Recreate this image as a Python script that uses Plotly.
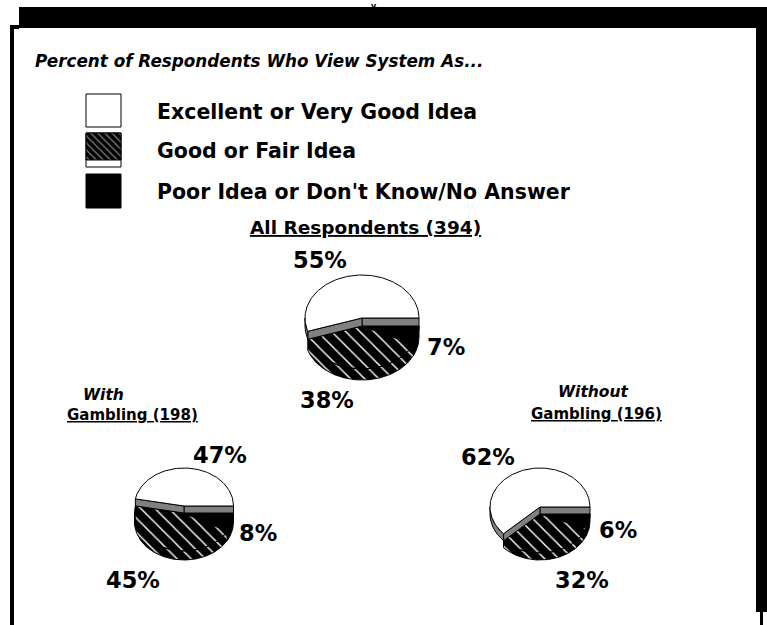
import numpy as np
import plotly.graph_objects as go

# ---------------- data ----------------
categories = ["Excellent or Very Good Idea", "Good or Fair Idea",
              "Poor Idea or Don't Know/No Answer"]
group_prefix = ["", "With", "Without"]
group_names = ["All Respondents (394)", "Gambling (198)", "Gambling (196)"]
all_respondents = [55, 38, 7]
with_gambling = [47, 45, 8]
without_gambling = [62, 32, 6]
series = [all_respondents, with_gambling, without_gambling]
chart_title = "Percent of Respondents Who View System As..."

# ---------------- layout constants (pixel space) ----------------
W, H = 767, 625
FONT = "DejaVu Sans"
GRAY = "#808080"
PIES = [
    dict(cx=362, cy=318, rx=57, ry=43, t=8, d=11,
         title=(365, 227), tsize=18.5, prefix=None,
         lab=[(-42, -58), (-35, 82), (84, 29)]),
    dict(cx=184, cy=506, rx=49.5, ry=38, t=7, d=9,
         title=(132, 415), tsize=15, prefix=(103, 395),
         lab=[(36, -51), (-51, 74), (74, 27)]),
    dict(cx=540, cy=507, rx=50, ry=39, t=7, d=7,
         title=(596, 414), tsize=15, prefix=(593, 392),
         lab=[(-52, -50), (42, 73), (78, 23)]),
]
HATCH = dict(shape="\\", bgcolor="black", fgcolor="white", size=10,
             solidity=0.14, fgopacity=1)


def arc(cx, cy, rx, ry, a0, a1):
    n = max(3, int(abs(a1 - a0) / 1.5) + 2)
    th = np.radians(np.linspace(a0, a1, n))
    return list(cx + rx * np.cos(th)), list(cy - ry * np.sin(th))


fig = go.Figure()


def poly(xs, ys, fill="white", pattern=None, lw=1):
    kw = dict(x=xs, y=ys, mode="lines", fill="toself", fillcolor=fill,
              line=dict(color="black", width=lw), hoverinfo="skip",
              showlegend=False)
    if pattern is not None:
        kw["fillpattern"] = pattern
    fig.add_trace(go.Scatter(**kw))


for p, vals in zip(PIES, series):
    cx, cy, rx, ry, t, d = p["cx"], p["cy"], p["rx"], p["ry"], p["t"], p["d"]
    a1 = 360.0 * vals[0] / sum(vals)
    a2 = a1 + 360.0 * vals[1] / sum(vals)
    # front slices (lowered by t, with outer wall of depth d)
    for (s, e, fill, pat) in [(a1, a2, "black", HATCH), (a2, 360.0, "black", None)]:
        ax, ay = arc(cx, cy + t, rx, ry, s, e)
        xs = [cx] + ax + [cx]
        ys = [cy + t] + ay + [cy + t]
        ws, we = max(s, 180.0), min(e, 360.0)
        if we > ws:
            tx, ty = arc(cx, cy + t, rx, ry, ws, we)
            bx, by = arc(cx, cy + t + d, rx, ry, we, ws)
            xs += [None] + tx + bx + [tx[0]]
            ys += [None] + ty + by + [ty[0]]
        poly(xs, ys, fill, pat)
    # gray cut faces of the raised slice
    ex, ey = arc(cx, cy, rx, ry, 0, 0)
    poly([cx, ex[0], ex[0], cx, cx], [cy, ey[0], ey[0] + t, cy + t, cy], GRAY)
    ex, ey = arc(cx, cy, rx, ry, a1, a1)
    poly([cx, ex[0], ex[0], cx, cx], [cy, ey[0], ey[0] + t, cy + t, cy], GRAY)
    # gray outer wall of the raised slice (front part)
    if a1 > 180:
        tx, ty = arc(cx, cy, rx, ry, 180, a1)
        bx, by = arc(cx, cy + t, rx, ry, a1, 180)
        poly(tx + bx + [tx[0]], ty + by + [ty[0]], GRAY)
    # raised top slice
    ax, ay = arc(cx, cy, rx, ry, 0, a1)
    poly([cx] + ax + [cx], [cy] + ay + [cy], "white")

# ---------------- annotations ----------------
ann = []


def text(x, y, s, size, anchor="center", yanchor="middle"):
    ann.append(dict(x=x, y=y, xref="x", yref="y", text=s, showarrow=False,
                    xanchor=anchor, yanchor=yanchor,
                    font=dict(family=FONT, size=size, color="black")))


text(33, 61, "<b><i>" + chart_title + "</i></b>", 16.8, "left")

for p, vals, pre, name in zip(PIES, series, group_prefix, group_names):
    text(p["title"][0], p["title"][1], "<b><u>" + name + "</u></b>", p["tsize"])
    if pre:
        text(p["prefix"][0], p["prefix"][1], "<b><i>" + pre + "</i></b>", 15.5)
    for (dx, dy), v in zip(p["lab"], vals):
        text(p["cx"] + dx, p["cy"] + dy, "<b>%d%%</b>" % v, 22.5)

# legend
LEG_X, LEG_W = 86, 35
LEG_Y = [94, 133, 174]
LEG_TXT_X = 155
for i, cat in enumerate(categories):
    text(LEG_TXT_X, LEG_Y[i] + 18, "<b>" + cat + "</b>", 20.5, "left")

shapes = []
# frame
blk = dict(type="rect", xref="x", yref="y", fillcolor="black",
           line=dict(width=0), layer="above")
shapes.append(dict(blk, x0=19, x1=767, y0=7, y1=28))
shapes.append(dict(blk, x0=10, x1=19, y0=25, y1=29))
shapes.append(dict(blk, x0=10, x1=14, y0=25, y1=625))
shapes.append(dict(blk, x0=756, x1=767, y0=7, y1=612))
shapes.append(dict(blk, x0=760, x1=763, y0=612, y1=625))
# legend swatches
box = dict(type="rect", xref="x", yref="y", layer="below",
           line=dict(color="black", width=1))
shapes.append(dict(box, x0=LEG_X, x1=LEG_X + LEG_W, y0=LEG_Y[0],
                   y1=LEG_Y[0] + 33, fillcolor="white"))
shapes.append(dict(box, x0=LEG_X, x1=LEG_X + LEG_W, y0=LEG_Y[1],
                   y1=LEG_Y[1] + 34, fillcolor="white"))
shapes.append(dict(box, x0=LEG_X, x1=LEG_X + LEG_W, y0=LEG_Y[2],
                   y1=LEG_Y[2] + 34, fillcolor="black"))
sx = [LEG_X, LEG_X + LEG_W, LEG_X + LEG_W, LEG_X, LEG_X]
sy = [LEG_Y[1], LEG_Y[1], LEG_Y[1] + 27, LEG_Y[1] + 27, LEG_Y[1]]
poly(sx, sy, "black", dict(shape="\\", bgcolor="black", fgcolor="white",
                           size=5, solidity=0.25), lw=1)

# top heading fragment (mostly hidden in the original)
text(374, 0, "<b>y</b>", 8, yanchor="top")

fig.update_layout(
    width=W, height=H, margin=dict(l=0, r=0, t=0, b=0),
    paper_bgcolor="white", plot_bgcolor="white",
    xaxis=dict(range=[0, W], visible=False, fixedrange=True),
    yaxis=dict(range=[H, 0], visible=False, fixedrange=True),
    annotations=ann, shapes=shapes,
)
fig.write_html("out.html")
